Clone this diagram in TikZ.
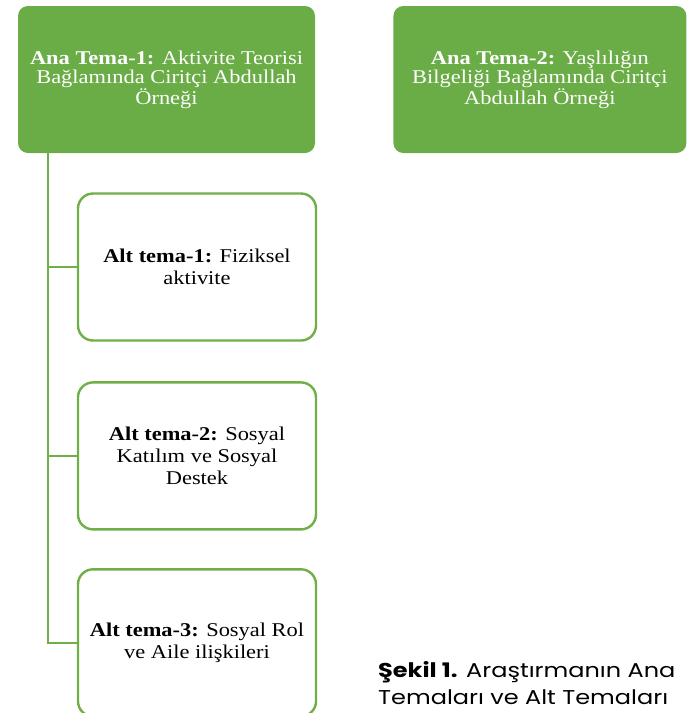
\documentclass[tikz,border=0pt]{standalone}
\usepackage{fontspec}
\setmainfont[FakeStretch=1.15]{Liberation Serif}
\newfontfamily\sekilfont[FakeStretch=1.2]{Poppins}
\usetikzlibrary{positioning}
\definecolor{anayesil}{RGB}{106,172,70}
\definecolor{cizgiyesil}{RGB}{112,174,72}

\begin{document}
\begin{tikzpicture}[x=1pt,y=-1pt,
	anakutu/.style={rectangle, rounded corners=10pt, fill=anayesil, text=white, minimum width=297pt, minimum height=147pt, inner sep=0pt, align=center, font=\fontsize{19.5}{19}\selectfont},
	altkutu/.style={rectangle, rounded corners=15pt, draw=cizgiyesil, line width=2.4pt, fill=white, minimum width=238pt, minimum height=147pt, inner sep=0pt, align=center, font=\fontsize{19.5}{22}\selectfont},
	kol/.style={draw=cizgiyesil, line width=2pt}]
		\useasboundingbox (0,0) rectangle (687,713);
		
		%ana temalar
		\node[anakutu] (ana1) at (166.5,79.5) {\textbf{Ana Tema-1:} Aktivite Teorisi\\Bağlamında Ciritçi Abdullah\\Örneği};
		\node[anakutu, minimum width=293pt, right = 78pt of ana1] (ana2) {\textbf{Ana Tema-2:} Yaşlılığın\\Bilgeliği Bağlamında Ciritçi\\Abdullah Örneği};
		
		%alt temalar
		\node[altkutu] (alt1) at (197,267) {\textbf{Alt tema-1:} Fiziksel\\aktivite};
		\node[altkutu, below = 39.5pt of alt1] (alt2) {\textbf{Alt tema-2:} Sosyal\\Katılım ve Sosyal\\Destek};
		\node[altkutu, below = 37.5pt of alt2] (alt3) {\textbf{Alt tema-3:} Sosyal Rol\\ve Aile ilişkileri};
		
		%kollar
		\coordinate (kok) at (47.5,153);
		\draw[kol] (kok) |- (alt3.west);
		\draw[kol] (kok |- alt1.west) -- (alt1.west);
		\draw[kol] (kok |- alt2.west) -- (alt2.west);
		
		%başlık
		\node[anchor=north west, align=left, inner sep=0pt, font=\sekilfont\fontsize{20}{27.5}\selectfont] (sekil) at (378,661) {\textbf{Şekil 1.} Araştırmanın Ana\\Temaları ve Alt Temaları};
		
	\end{tikzpicture}
\end{document}
